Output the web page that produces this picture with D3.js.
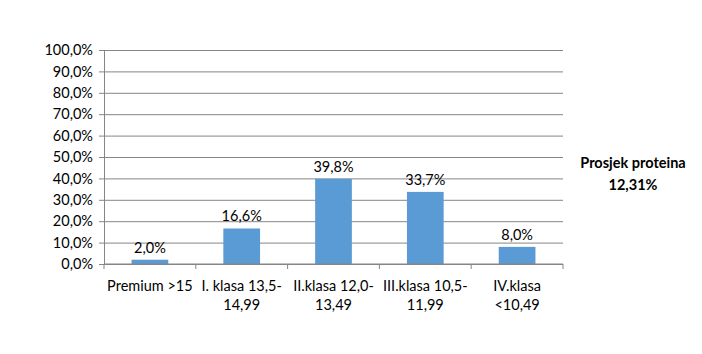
<!DOCTYPE html>
<html>
<head>
<meta charset="utf-8">
<script src="https://cdn.jsdelivr.net/npm/d3@7"></script>
<style>
  body { margin: 0; background: #fff; }
  text { font-family: Lato, 'Open Sans', sans-serif; fill: #000; }
</style>
</head>
<body>
<div id="chart"></div>
<script>
const categories = [
  ['Premium >15'],
  ['I. klasa 13,5-', '14,99'],
  ['II.klasa 12,0-', '13,49'],
  ['III.klasa 10,5-', '11,99'],
  ['IV.klasa', '<10,49'],
]
const values = [2.0, 16.6, 39.8, 33.7, 8.0]
const yTicks = [0, 10, 20, 30, 40, 50, 60, 70, 80, 90, 100]
const noteLines = ['Prosjek proteina', '12,31%']

const width = 702
const height = 354
const margin = { top: 50, right: 139, bottom: 90, left: 104 }
const innerW = width - margin.left - margin.right
const innerH = height - margin.top - margin.bottom
const fontSize = '14.5px'
const fmt = v => d3.format('.1f')(v).replace('.', ',') + '%'

const svg = d3
  .select('#chart')
  .append('svg')
  .attr('width', width)
  .attr('height', height)

const g = svg
  .append('g')
  .attr('transform', `translate(${margin.left},${margin.top})`)

const keys = categories.map((c, i) => i)
const xScale = d3
  .scaleBand()
  .domain(keys)
  .range([0, innerW])
  .paddingInner(0.6)
  .paddingOuter(0.3)
const yScale = d3.scaleLinear().domain([0, 100]).range([innerH, 0])

// grid
g.append('g')
  .call(d3.axisLeft(yScale).tickValues(yTicks).tickSize(-innerW).tickFormat(''))
  .call(ax => ax.select('.domain').remove())
  .call(ax => ax.selectAll('.tick line').attr('stroke', '#868686'))

// y axis
g.append('g')
  .call(d3.axisLeft(yScale).tickValues(yTicks).tickSize(5).tickPadding(6).tickFormat(fmt).tickSizeOuter(0))
  .call(ax => ax.select('.domain').attr('stroke', '#868686'))
  .call(ax => ax.selectAll('.tick line').attr('stroke', '#868686'))
  .call(ax => ax.selectAll('.tick text').style('font-size', fontSize))

// bars
g.append('g')
  .selectAll('rect')
  .data(values)
  .join('rect')
  .attr('x', (d, i) => xScale(i))
  .attr('y', d => yScale(d))
  .attr('width', xScale.bandwidth())
  .attr('height', d => yScale(0) - yScale(d))
  .attr('fill', '#5B9BD5')

// value labels
g.append('g')
  .selectAll('text')
  .data(values)
  .join('text')
  .attr('x', (d, i) => xScale(i) + xScale.bandwidth() / 2)
  .attr('y', d => yScale(d) - 7)
  .attr('text-anchor', 'middle')
  .style('font-size', fontSize)
  .text(fmt)

// x axis
const step = innerW / categories.length
const xAxisG = g.append('g').attr('transform', `translate(0,${innerH})`)
xAxisG
  .append('line')
  .attr('x1', 0)
  .attr('x2', innerW)
  .attr('stroke', '#868686')
xAxisG
  .selectAll('line.tk')
  .data(d3.range(categories.length + 1))
  .join('line')
  .attr('class', 'tk')
  .attr('x1', i => i * step)
  .attr('x2', i => i * step)
  .attr('y1', 0)
  .attr('y2', 5)
  .attr('stroke', '#868686')
xAxisG
  .selectAll('text')
  .data(categories)
  .join('text')
  .attr('text-anchor', 'middle')
  .attr('transform', (d, i) => `translate(${xScale(i) + xScale.bandwidth() / 2},27)`)
  .style('font-size', fontSize)
  .selectAll('tspan')
  .data(d => d)
  .join('tspan')
  .attr('x', 0)
  .attr('dy', (d, j) => (j === 0 ? 0 : 19))
  .text(d => d)

// note
svg
  .append('text')
  .attr('text-anchor', 'middle')
  .attr('transform', 'translate(633,168)')
  .style('font-size', fontSize)
  .style('font-weight', 'bold')
  .selectAll('tspan')
  .data(noteLines)
  .join('tspan')
  .attr('x', 0)
  .attr('dy', (d, j) => (j === 0 ? 0 : 22))
  .text(d => d)
</script>
</body>
</html>
